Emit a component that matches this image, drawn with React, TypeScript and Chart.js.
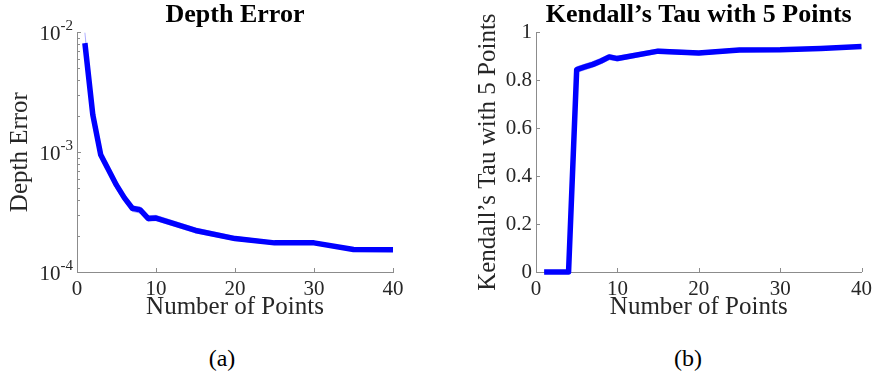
import React, { useEffect, useRef } from "react";
import { Chart, registerables } from "chart.js";

Chart.register(...registerables);

// ---------- data ----------
const pointCounts = [1, 2, 3, 4, 5, 6, 7, 8, 9, 10, 15, 20, 25, 30, 35, 40];

const depthError = [8.1e-3, 2.05e-3, 9.5e-4, 7.1e-4, 5.3e-4, 4.15e-4, 3.4e-4, 3.3e-4, 2.8e-4, 2.82e-4, 2.22e-4, 1.9e-4, 1.75e-4, 1.75e-4, 1.54e-4, 1.53e-4];
const depthErrorUpper = [9.9e-3, 2.2e-3, 1.0e-3, 7.5e-4, 5.6e-4, 4.35e-4, 3.55e-4, 3.5e-4, 2.95e-4, 2.97e-4, 2.33e-4, 1.98e-4, 1.8e-4, 1.8e-4, 1.58e-4, 1.57e-4];
const depthErrorLower = [7.0e-3, 1.9e-3, 9.0e-4, 6.6e-4, 4.9e-4, 3.9e-4, 3.2e-4, 3.1e-4, 2.65e-4, 2.68e-4, 2.12e-4, 1.83e-4, 1.7e-4, 1.7e-4, 1.5e-4, 1.49e-4];

const kendallTau = [0, 0, 0, 0, 0.844, 0.855, 0.866, 0.88, 0.897, 0.89, 0.921, 0.913, 0.926, 0.927, 0.932, 0.94];
const kendallTauUpper = [0, 0, 0, 0, 0.856, 0.867, 0.878, 0.892, 0.907, 0.9, 0.93, 0.921, 0.933, 0.934, 0.938, 0.945];
const kendallTauLower = [0, 0, 0, 0, 0.832, 0.843, 0.854, 0.868, 0.885, 0.88, 0.912, 0.905, 0.919, 0.92, 0.926, 0.935];

const xTickValues = [0, 10, 20, 30, 40];
const logExponents = [-4, -3, -2];
const tauTickValues = [0, 0.2, 0.4, 0.6, 0.8, 1];

const titles = ["Depth Error", "Kendall\u2019s Tau with 5 Points"];
const xAxisTitle = "Number of Points";
const captions = ["(a)", "(b)"];

// ---------- styles ----------
const SERIF = "'Liberation Serif', 'Times New Roman', serif";
const TEXT = "#262626";
const AXIS = "#8c8c8c";
const BLUE = "#0000ff";
const BAND_LINE = "rgba(100,100,255,0.5)";
const BAND_FILL = "rgba(0,0,255,0.08)";

const toXY = (ys: number[]) => pointCounts.map((x, i) => ({ x, y: ys[i] }));

function tickPlugin(isLog: boolean) {
  return {
    id: "inwardTicks",
    afterDraw(chart: any) {
      const ctx = chart.ctx;
      const area = chart.chartArea;
      const xs = chart.scales.x;
      const ys = chart.scales.y;
      ctx.save();
      ctx.strokeStyle = AXIS;
      ctx.lineWidth = 1;
      ctx.beginPath();
      xTickValues.forEach((v) => {
        const px = Math.round(xs.getPixelForValue(v)) + 0.5;
        ctx.moveTo(px, area.bottom);
        ctx.lineTo(px, area.bottom - 4);
      });
      if (isLog) {
        logExponents.forEach((e, idx) => {
          const py = Math.round(ys.getPixelForValue(Math.pow(10, e))) + 0.5;
          ctx.moveTo(area.left, py);
          ctx.lineTo(area.left + 4, py);
          if (idx < logExponents.length - 1) {
            for (let m = 2; m <= 9; m++) {
              const pm = Math.round(ys.getPixelForValue(m * Math.pow(10, e))) + 0.5;
              ctx.moveTo(area.left, pm);
              ctx.lineTo(area.left + 3, pm);
            }
          }
        });
      } else {
        tauTickValues.forEach((v) => {
          const py = Math.round(ys.getPixelForValue(v)) + 0.5;
          ctx.moveTo(area.left, py);
          ctx.lineTo(area.left + 4, py);
        });
      }
      ctx.stroke();

      if (isLog) {
        ctx.fillStyle = TEXT;
        ctx.textBaseline = "middle";
        logExponents.forEach((e) => {
          const py = ys.getPixelForValue(Math.pow(10, e));
          const sup = "-" + Math.abs(e);
          ctx.font = `15px ${SERIF}`;
          ctx.textAlign = "right";
          const supRight = area.left - 4;
          const supW = ctx.measureText(sup).width;
          ctx.fillText(sup, supRight, py - 6);
          ctx.font = `21px ${SERIF}`;
          ctx.fillText("10", supRight - supW, py + 2);
        });
      }
      ctx.restore();
    },
  };
}

function makeConfig(isLog: boolean): any {
  const main = isLog ? depthError : kendallTau;
  const upper = isLog ? depthErrorUpper : kendallTauUpper;
  const lower = isLog ? depthErrorLower : kendallTauLower;
  return {
    type: "line",
    data: {
      datasets: [
        {
          data: toXY(main),
          borderColor: BLUE,
          borderWidth: 5.5,
          borderJoinStyle: "round",
          borderCapStyle: "butt",
          pointRadius: 0,
          tension: 0,
          fill: false,
          clip: false,
          order: 0,
        },
        {
          data: toXY(upper),
          borderColor: BAND_LINE,
          borderWidth: 1,
          pointRadius: 0,
          tension: 0,
          fill: "+1",
          backgroundColor: BAND_FILL,
          clip: false,
          order: 1,
        },
        {
          data: toXY(lower),
          borderColor: BAND_LINE,
          borderWidth: 1,
          pointRadius: 0,
          tension: 0,
          fill: false,
          clip: false,
          order: 2,
        },
      ],
    },
    options: {
      animation: false,
      responsive: false,
      events: [],
      layout: { padding: { left: 0, right: isLog ? 47 : 15, top: 0, bottom: 0 } },
      plugins: {
        legend: { display: false },
        tooltip: { enabled: false },
        title: {
          display: true,
          text: isLog ? titles[0] : titles[1],
          fullSize: false,
          color: "#000",
          font: { family: SERIF, size: 26, weight: "bold", lineHeight: 1.2 },
          padding: { top: 0, bottom: 1 },
        },
      },
      scales: {
        x: {
          type: "linear",
          min: 0,
          max: 40,
          grid: { display: false, drawTicks: false },
          border: { display: true, color: AXIS, width: 1 },
          afterBuildTicks: (s: any) => {
            s.ticks = xTickValues.map((v) => ({ value: v }));
          },
          ticks: {
            color: TEXT,
            font: { family: SERIF, size: 21 },
            padding: 5,
            maxRotation: 0,
            autoSkip: false,
          },
          title: {
            display: true,
            text: xAxisTitle,
            color: TEXT,
            font: { family: SERIF, size: 25, lineHeight: 1.2 },
            padding: { top: 0, bottom: 8 },
          },
          afterFit: (s: any) => {
            s.height = 58;
          },
        },
        y: isLog
          ? {
              type: "logarithmic",
              min: 1e-4,
              max: 1e-2,
              grid: { display: false, drawTicks: false },
              border: { display: true, color: AXIS, width: 1 },
              ticks: { display: false },
              title: {
                display: true,
                text: titles[0],
                color: TEXT,
                font: { family: SERIF, size: 25, lineHeight: 1.2 },
                padding: { top: 5, bottom: 0 },
              },
              afterFit: (s: any) => {
                s.width = 77;
              },
            }
          : {
              type: "linear",
              min: 0,
              max: 1,
              grid: { display: false, drawTicks: false },
              border: { display: true, color: AXIS, width: 1 },
              afterBuildTicks: (s: any) => {
                s.ticks = tauTickValues.map((v) => ({ value: v }));
              },
              ticks: {
                color: TEXT,
                font: { family: SERIF, size: 21 },
                padding: 4,
                callback: (v: any) => String(Number(Number(v).toFixed(1))),
              },
              title: {
                display: true,
                text: titles[1],
                color: TEXT,
                font: { family: SERIF, size: 25, lineHeight: 1.2 },
                padding: { top: 33, bottom: 0 },
              },
              afterFit: (s: any) => {
                s.width = 96;
              },
            },
      },
    },
    plugins: [tickPlugin(isLog)],
  };
}

function Panel({ isLog, left, width }: { isLog: boolean; left: number; width: number }) {
  const ref = useRef<HTMLCanvasElement | null>(null);
  useEffect(() => {
    if (!ref.current) return;
    const chart = new Chart(ref.current, makeConfig(isLog));
    return () => chart.destroy();
  }, [isLog]);
  return (
    <canvas
      ref={ref}
      width={width}
      height={330}
      style={{ position: "absolute", left, top: 0, width, height: 330, display: "block" }}
    />
  );
}

const captionStyle = (cx: number): React.CSSProperties => ({
  position: "absolute",
  left: cx,
  top: 358,
  transform: "translate(-50%, -50%)",
  fontFamily: SERIF,
  fontSize: 24,
  lineHeight: "28px",
  color: "#000",
  whiteSpace: "nowrap",
});

export default function App() {
  return (
    <div
      style={{
        position: "absolute",
        left: 0,
        top: 0,
        width: 877,
        height: 371,
        background: "#fff",
        overflow: "hidden",
      }}
    >
      <Panel isLog={true} left={0} width={440} />
      <Panel isLog={false} left={440} width={437} />
      <div style={captionStyle(222)}>{captions[0]}</div>
      <div style={captionStyle(688)}>{captions[1]}</div>
    </div>
  );
}
